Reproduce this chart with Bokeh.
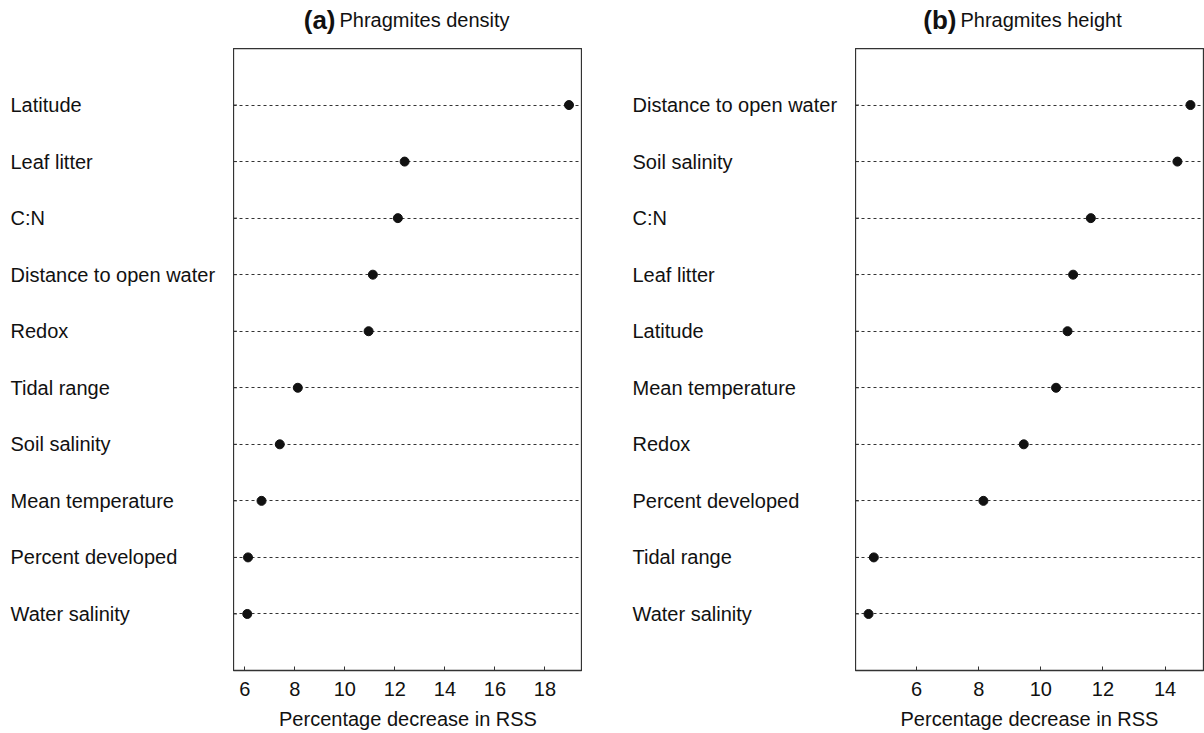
from bokeh.plotting import figure
from bokeh.layouts import row, column
from bokeh.models import Range1d, FixedTicker
from bokeh.core.properties import value
from bokeh.embed import file_html
from bokeh.resources import INLINE

# (a) Phragmites density: percentage decrease in RSS when each predictor is dropped
density_vars = ["Latitude", "Leaf litter", "C:N", "Distance to open water", "Redox",
                "Tidal range", "Soil salinity", "Mean temperature", "Percent developed",
                "Water salinity"]
density_vals = [18.96, 12.39, 12.12, 11.12, 10.95, 8.12, 7.40, 6.67, 6.13, 6.10]
density_ticks = [6, 8, 10, 12, 14, 16, 18]

# (b) Phragmites height
height_vars = ["Distance to open water", "Soil salinity", "C:N", "Leaf litter", "Latitude",
               "Mean temperature", "Redox", "Percent developed", "Tidal range",
               "Water salinity"]
height_vals = [14.82, 14.40, 11.61, 11.04, 10.86, 10.49, 9.45, 8.15, 4.62, 4.45]
height_ticks = [6, 8, 10, 12, 14]

panel_tags = ["(a)", "(b)"]
panel_titles = ["Phragmites density", "Phragmites height"]

FONT = "Liberation Sans"
FS = "20px"
W = 1204
HEAD = 48
H = 733 - HEAD
BOTTOM = 63
INK = "#111111"
LINE = "#333333"


def bare(fig):
    fig.outline_line_color = None
    fig.grid.visible = False
    return fig


def header():
    # panel headings: bold tag followed by the response name
    f = bare(figure(width=W, height=HEAD, x_range=Range1d(0, W), y_range=Range1d(0, HEAD),
                    toolbar_location=None, output_backend="svg",
                    x_axis_location=None, y_axis_location=None,
                    min_border=0))
    split = [337, 958]
    base = [29, 29]
    f.text(x=[s - 2 for s in split], y=base, text=panel_tags,
           text_font=value(FONT), text_font_size="26px", text_font_style="bold",
           text_color=INK, text_align="right", text_baseline="alphabetic")
    f.text(x=[s + 2 for s in split], y=base, text=panel_titles,
           text_font=value(FONT), text_font_size=FS,
           text_color=INK, text_align="left", text_baseline="alphabetic")
    return f


def label_column(names, yr, width, x_text):
    n = len(names)
    ys = list(range(n, 0, -1))
    f = bare(figure(width=width, height=H, x_range=Range1d(0, width), y_range=yr,
                    toolbar_location=None, output_backend="svg",
                    x_axis_location=None, y_axis_location=None,
                    min_border_left=0, min_border_right=0,
                    min_border_top=0, min_border_bottom=BOTTOM))
    f.text(x=x_text, y=ys, text=names, text_font=value(FONT),
           text_font_size=FS, text_color=INK, text_baseline="middle", text_align="left")
    return f


def dot_panel(names, vals, xr, ticks, yr, width, right_border):
    n = len(names)
    ys = list(range(n, 0, -1))
    p = figure(width=width, height=H, x_range=Range1d(*xr), y_range=yr,
               toolbar_location=None, output_backend="svg", y_axis_location=None,
               min_border_left=0, min_border_right=right_border,
               min_border_top=0, min_border_bottom=BOTTOM)
    p.grid.visible = False
    p.outline_line_color = LINE
    p.outline_line_width = 1.3

    p.hspan(y=ys, line_color=LINE, line_dash="3 3", line_width=1)
    # short inward ticks on the left frame edge, one per predictor
    p.scatter(x=[xr[0]] * n, y=ys, marker="dash", size=7, line_color=LINE, line_width=1)
    p.scatter(vals, ys, size=9, fill_color=INK, line_color=INK)

    xa = p.xaxis[0]
    xa.ticker = FixedTicker(ticks=ticks)
    xa.minor_tick_line_color = None
    xa.major_tick_in = 4
    xa.major_tick_out = 0
    xa.major_tick_line_color = LINE
    xa.axis_line_color = None
    xa.major_label_standoff = 11
    xa.major_label_text_font = FONT
    xa.major_label_text_font_size = FS
    xa.major_label_text_color = INK
    xa.axis_label = "Percentage decrease in RSS"
    xa.axis_label_text_font = FONT
    xa.axis_label_text_font_size = FS
    xa.axis_label_text_font_style = "normal"
    xa.axis_label_text_color = INK
    xa.axis_label_standoff = 9
    return p


yr_a = Range1d(0, len(density_vars) + 1)
yr_b = Range1d(0, len(height_vars) + 1)

lab_a = label_column(density_vars, yr_a, 233, 10)
plot_a = dot_panel(density_vars, density_vals, (5.55, 19.5), density_ticks, yr_a, 349, 0)
lab_b = label_column(height_vars, yr_b, 273, 50)
plot_b = dot_panel(height_vars, height_vals, (4.03, 15.24), height_ticks, yr_b, 349, 1)

layout = column(header(), row(lab_a, plot_a, lab_b, plot_b, spacing=0), spacing=0)

open("out.html", "w").write(file_html(layout, INLINE))
